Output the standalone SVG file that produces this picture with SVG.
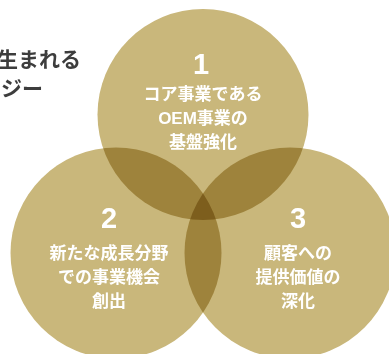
<svg xmlns="http://www.w3.org/2000/svg" width="389" height="354" viewBox="0 0 389 354">
<style>
.c{fill:#C9B77B;mix-blend-mode:multiply}
.num{font-family:"Liberation Sans","Noto Sans CJK JP",sans-serif;font-size:29px;font-weight:bold;fill:#fff;text-anchor:middle}
.t{font-family:"Liberation Sans","Noto Sans CJK JP",sans-serif;font-size:17px;font-weight:bold;fill:#fff;text-anchor:middle}
.h{font-family:"Noto Sans CJK JP",sans-serif;font-size:21px;font-weight:bold;fill:#3d3d3d;text-anchor:end}
</style>
<rect width="389" height="354" fill="#fff"/>
<g id="title">
<text class="h" x="81" y="67">生まれる</text>
<text class="h" x="43" y="96">ジー</text>
</g>
<g id="connectors"></g>
<g id="node1">
<circle class="c" cx="203" cy="114.5" r="105.5"/>
</g>
<g id="node2">
<circle class="c" cx="116" cy="253" r="105.5"/>
</g>
<g id="node3">
<circle class="c" cx="290" cy="253" r="105.5"/>
</g>
<g id="node1-label">
<text class="num" x="201" y="74">1</text>
<text class="t" x="203" y="100">コア事業である</text>
<text class="t" x="203" y="124">OEM事業の</text>
<text class="t" x="203" y="148">基盤強化</text>
</g>
<g id="node2-label">
<text class="num" x="109" y="228">2</text>
<text class="t" x="109" y="259">新たな成長分野</text>
<text class="t" x="109" y="283">での事業機会</text>
<text class="t" x="109" y="307">創出</text>
</g>
<g id="node3-label">
<text class="num" x="298" y="228">3</text>
<text class="t" x="298" y="259">顧客への</text>
<text class="t" x="298" y="283">提供価値の</text>
<text class="t" x="298" y="307">深化</text>
</g>
</svg>
